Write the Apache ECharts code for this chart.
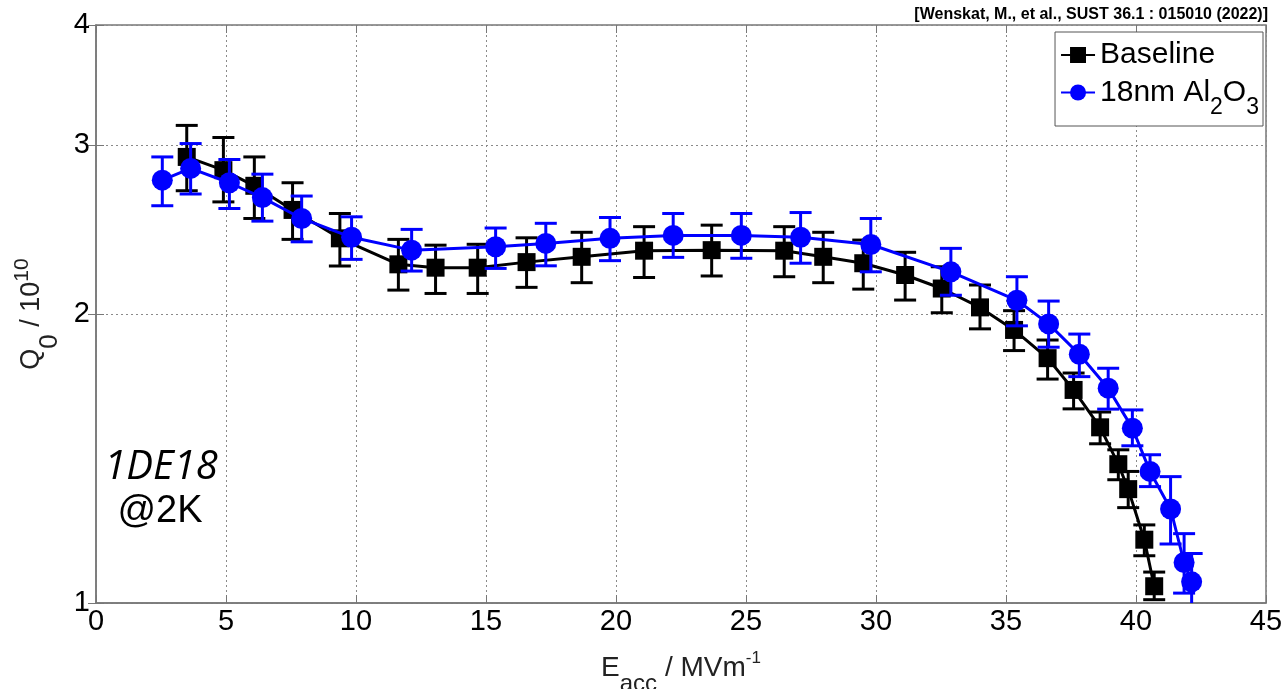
<!DOCTYPE html>
<html>
<head>
<meta charset="utf-8">
<script src="https://cdn.jsdelivr.net/npm/echarts@6/dist/echarts.min.js"></script>
<style>
html, body { margin: 0; padding: 0; background: #fff; }
#chart { width: 1287px; height: 689px; }
</style>
</head>
<body>
<div id="chart"></div>
<script>
// Baseline: E_acc (MV/m), Q0 / 1e10, and error bar ends
var baselineE  = [3.49, 4.90, 6.09, 7.56, 9.38, 11.63, 13.06, 14.68, 16.56, 18.68, 21.08, 23.68, 26.47,
                  27.97, 29.51, 31.12, 32.53, 34.00, 35.31, 36.60, 37.60, 38.62, 39.32, 39.70, 40.32, 40.70];
var baselineQ  = [2.915, 2.824, 2.720, 2.567, 2.398, 2.253, 2.235, 2.235, 2.265, 2.294, 2.328, 2.331, 2.328,
                  2.294, 2.259, 2.196, 2.126, 2.032, 1.925, 1.799, 1.667, 1.524, 1.395, 1.314, 1.164, 1.041];
var baselineHi = [3.144, 3.054, 2.915, 2.740, 2.545, 2.392, 2.359, 2.364, 2.401, 2.433, 2.466, 2.475, 2.466,
                  2.433, 2.388, 2.319, 2.240, 2.144, 2.016, 1.879, 1.736, 1.581, 1.444, 1.371, 1.206, 1.077];
var baselineLo = [2.688, 2.617, 2.515, 2.392, 2.244, 2.118, 2.101, 2.101, 2.132, 2.156, 2.183, 2.191, 2.187,
                  2.156, 2.123, 2.068, 2.006, 1.930, 1.832, 1.711, 1.593, 1.465, 1.344, 1.257, 1.120, 1.008];

// 18nm Al2O3 coated
var coatedE  = [2.55, 3.64, 5.13, 6.40, 7.91, 9.83, 12.14, 15.37, 17.30, 19.77, 22.20, 24.82, 27.10, 29.80,
                32.88, 35.42, 36.64, 37.82, 38.93, 39.86, 40.54, 41.33, 41.85, 42.14];
var coatedQ  = [2.757, 2.836, 2.740, 2.644, 2.515, 2.404, 2.331, 2.350, 2.369, 2.398, 2.415, 2.415, 2.404, 2.363,
                2.213, 2.067, 1.953, 1.816, 1.674, 1.521, 1.371, 1.253, 1.102, 1.052];
var coatedHi = [2.915, 3.010, 2.897, 2.797, 2.654, 2.525, 2.450, 2.458, 2.486, 2.521, 2.545, 2.545, 2.551, 2.515,
                2.341, 2.187, 2.063, 1.906, 1.756, 1.589, 1.427, 1.354, 1.181, 1.126];
var coatedLo = [2.593, 2.667, 2.576, 2.499, 2.378, 2.280, 2.217, 2.231, 2.245, 2.273, 2.291, 2.286, 2.259, 2.213,
                2.092, 1.944, 1.847, 1.721, 1.592, 1.458, 1.322, 1.152, 1.024, 0.985];

var yTicks = [1, 2, 3, 4];

var FONT = 'Liberation Sans, Arial, sans-serif';

function pairs(xs, ys) {
    return xs.map(function (x, i) { return [x, ys[i]]; });
}
function bars(xs, lo, hi) {
    return xs.map(function (x, i) { return [x, lo[i], hi[i]]; });
}

// 误差棒
function errorBar(color) {
    return function (params, api) {
        var x = api.value(0);
        var a = api.coord([x, api.value(1)]);
        var b = api.coord([x, api.value(2)]);
        var half = 11;
        var st = { stroke: color, lineWidth: 3 };
        return {
            type: 'group',
            children: [
                { type: 'line', shape: { x1: a[0], y1: a[1], x2: b[0], y2: b[1] }, style: st },
                { type: 'line', shape: { x1: a[0] - half, y1: a[1], x2: a[0] + half, y2: a[1] }, style: st },
                { type: 'line', shape: { x1: b[0] - half, y1: b[1], x2: b[0] + half, y2: b[1] }, style: st }
            ]
        };
    };
}

var chart = echarts.init(document.getElementById('chart'));

var gridLine = { show: true, lineStyle: { color: '#8a8a8a', width: 1, type: [2, 3] } };

chart.setOption({
    animation: false,
    backgroundColor: '#fff',
    grid: {
        left: 96, right: 21, top: 25, bottom: 86,
        outerBoundsMode: 'none',
        containLabel: false,
        show: true, borderColor: '#777', borderWidth: 1.5, backgroundColor: 'transparent'
    },
    legend: {
        orient: 'vertical',
        right: 24,
        top: 32,
        itemWidth: 34,
        itemHeight: 20,
        itemGap: -4,
        padding: [8, 4, 7, 5],
        borderColor: '#555',
        borderWidth: 1,
        backgroundColor: '#fff',
        data: ['Baseline', '18nm Al2O3'],
        formatter: function (name) {
            if (name === 'Baseline') return '{a|Baseline}';
            return '{a|18nm Al}{s|2}{a|O}{s|3}';
        },
        textStyle: {
            rich: {
                a: { fontFamily: FONT, fontSize: 30, color: '#000', lineHeight: 34 },
                s: { fontFamily: FONT, fontSize: 23, color: '#000', lineHeight: 34, padding: [30, 0, 0, 0] }
            }
        }
    },
    xAxis: [{
        type: 'value',
        min: 0, max: 45, interval: 5,
        name: '{a|E}{s|acc}{a| / MVm}{p|-1}',
        nameLocation: 'middle',
        nameGap: 35,
        nameTextStyle: {
            rich: {
                a: { fontFamily: FONT, fontSize: 28, color: '#222', lineHeight: 34 },
                s: { fontFamily: FONT, fontSize: 24, color: '#222', lineHeight: 34, padding: [31, 0, 0, 0] },
                p: { fontFamily: FONT, fontSize: 17, color: '#222', lineHeight: 34, padding: [0, 0, 20, 0] }
            }
        },
        axisLine: { show: true, lineStyle: { color: '#777', width: 1.5 } },
        axisTick: { show: true, inside: true, length: 8, lineStyle: { color: '#777' } },
        axisLabel: { fontFamily: FONT, fontSize: 29, color: '#000', margin: 4 },
        splitLine: gridLine
    }, {
        type: 'value',
        position: 'top',
        min: 0, max: 45, interval: 5,
        axisLine: { show: false },
        axisTick: { show: true, inside: true, length: 8, lineStyle: { color: '#777' } },
        axisLabel: { show: false },
        splitLine: { show: false }
    }],
    yAxis: [{
        type: 'log',
        logBase: 10,
        min: 1, max: 4,
        name: '{a|Q}{s|0}{a| / 10}{p|10}',
        nameLocation: 'middle',
        nameGap: 33,
        nameTextStyle: {
            rich: {
                a: { fontFamily: FONT, fontSize: 27, color: '#222', lineHeight: 34 },
                s: { fontFamily: FONT, fontSize: 26, color: '#222', lineHeight: 34, padding: [36, 0, 0, 0] },
                p: { fontFamily: FONT, fontSize: 21, color: '#222', lineHeight: 34, padding: [0, 0, 19, 0] }
            }
        },
        axisLine: { show: true, lineStyle: { color: '#777', width: 1.5 } },
        axisTick: { show: true, inside: true, length: 8, lineStyle: { color: '#777' }, customValues: yTicks },
        axisLabel: { fontFamily: FONT, fontSize: 29, color: '#000', margin: 6, customValues: yTicks },
        splitLine: gridLine
    }, {
        type: 'log',
        logBase: 10,
        min: 1, max: 4,
        position: 'right',
        axisLine: { show: false },
        axisTick: { show: true, inside: true, length: 8, lineStyle: { color: '#777' }, customValues: yTicks },
        axisLabel: { show: false, customValues: yTicks },
        splitLine: { show: false }
    }],
    graphic: [
        { type: 'text', x: 1268, y: 15, style: { text: '[Wenskat, M., et al., SUST 36.1 : 015010 (2022)]', fontFamily: FONT, fontWeight: 'bold', fontSize: 16, fill: '#000', align: 'right', verticalAlign: 'middle' } },
        { type: 'text', x: 161, y: 468, style: { text: '1DE18', fontFamily: 'Open Sans, sans-serif', fontStyle: 'italic', fontSize: 40, fill: '#000', align: 'center', verticalAlign: 'middle' } },
        { type: 'text', x: 160, y: 512, style: { text: '@2K', fontFamily: FONT, fontSize: 38, fill: '#000', align: 'center', verticalAlign: 'middle' } }
    ],
    series: [
        {
            name: 'BaselineErr',
            type: 'custom',
            z: 1,
            clip: true,
            renderItem: errorBar('#000'),
            encode: { x: 0, y: [1, 2] },
            data: bars(baselineE, baselineLo, baselineHi)
        },
        {
            name: 'Baseline',
            type: 'line',
            z: 2,
            data: pairs(baselineE, baselineQ),
            symbol: 'rect',
            symbolSize: 18,
            showAllSymbol: true,
            itemStyle: { color: '#000' },
            lineStyle: { color: '#000', width: 3 }
        },
        {
            name: 'CoatedErr',
            type: 'custom',
            z: 3,
            clip: true,
            renderItem: errorBar('#0000ff'),
            encode: { x: 0, y: [1, 2] },
            data: bars(coatedE, coatedLo, coatedHi)
        },
        {
            name: '18nm Al2O3',
            type: 'line',
            z: 4,
            data: pairs(coatedE, coatedQ),
            symbol: 'circle',
            symbolSize: 21,
            showAllSymbol: true,
            itemStyle: { color: '#0000ff' },
            lineStyle: { color: '#0000ff', width: 3 }
        }
    ]
});
</script>
</body>
</html>
